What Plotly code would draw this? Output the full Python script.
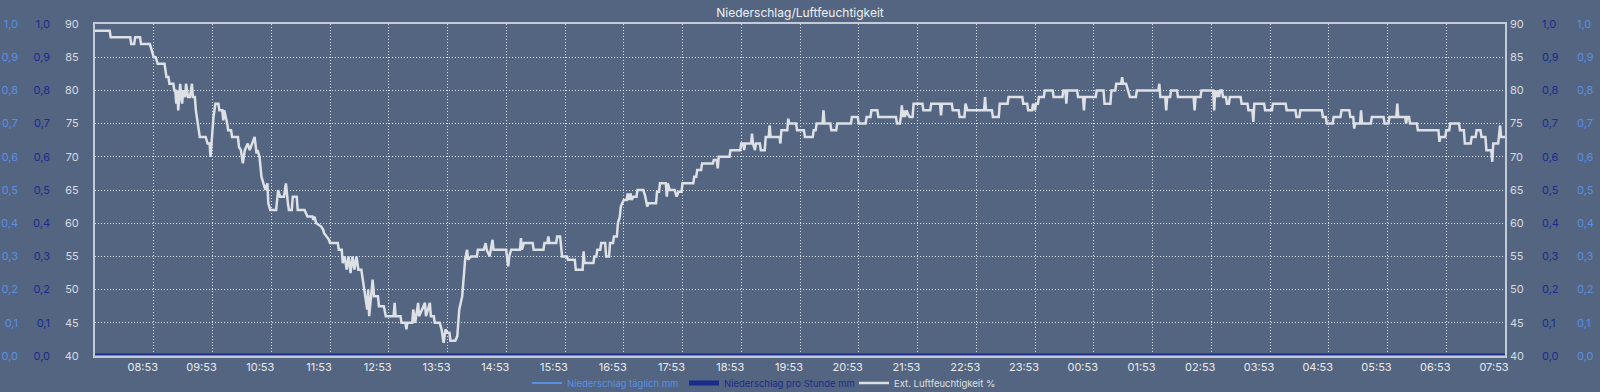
import datetime as dt
import plotly.graph_objects as go

# ---------------- data ----------------
start = dt.datetime(2024, 5, 14, 7, 53)

# humidity breakpoints: minutes after 07:53 and relative humidity (%)
min_a = [0, 15, 16, 36, 37, 40, 41, 46, 47, 56,
         58, 60, 62, 64, 71, 73, 75, 76, 80, 81,
         82, 83, 84, 85, 86, 87, 88, 89, 90, 92,
         93, 95, 97, 99, 100, 102, 103, 105, 107, 113,
         115, 117, 118, 119, 120, 121, 123, 126, 127, 130,
         131, 132, 135, 136, 139, 140, 146, 147, 149, 151,
         153, 156, 158, 163, 165, 166, 168, 170, 172, 174,
         176, 177, 179, 182, 185, 187, 189, 193, 195, 197,
         198, 201, 202, 206, 207, 214, 217, 222, 223, 224,
         226, 231, 233]
rh_a = [89, 89, 88, 88, 87, 87, 88, 88, 87, 87,
        86, 85, 85, 84, 84, 82, 82, 81, 81, 80,
        80, 78, 80, 77, 79, 81, 79, 78, 80, 79,
        81, 79, 79, 81, 79, 79, 77, 75, 73, 73,
        72, 72, 70, 72, 75, 76, 78, 78, 77, 77,
        75.5, 77, 75, 74, 74, 73, 73, 71.5, 71, 69,
        71, 72, 71, 73, 70.5, 71, 70, 67, 66, 65,
        66, 63, 62, 62, 62, 65, 64, 64, 66, 63,
        62, 62, 64, 64, 62, 62, 61, 61, 60.5, 61,
        60, 59.5, 59]

min_b = [234, 239, 240, 248, 249, 252, 253, 255, 257, 259,
         261, 263, 265, 267, 269, 272, 274, 276, 278, 279,
         280, 282, 283.5, 285, 289, 290, 295, 297, 305, 306,
         307, 312, 313, 317, 318, 319, 324, 325, 327, 330,
         331, 337, 338, 342, 343, 346, 347, 352, 354, 356,
         358, 360, 362, 363, 368, 370, 372, 375, 377, 378,
         380, 381, 384, 390, 391, 397, 399, 400, 403, 404,
         406, 407, 420, 421, 422, 423, 425, 434, 435, 436,
         438, 447, 448, 458, 459, 462, 463, 464, 471, 472,
         475, 477]
rh_b = [58.5, 57.5, 57, 57, 56, 56, 54, 55, 53, 55,
        52.5, 55, 53, 55, 53, 53, 51, 49, 47, 50,
        46, 49, 51.5, 49, 49, 47.5, 47.5, 46, 46, 48,
        46, 46, 45, 45, 44, 45, 45, 47, 45, 48,
        46, 48, 46, 48, 46, 46, 45, 45, 44, 42,
        44, 43.5, 43.5, 42.3, 42.3, 43, 47, 49, 52, 54.5,
        56, 54.5, 55, 55, 56, 56, 57, 56, 55, 56,
        57.5, 56, 56, 54.5, 53.5, 55, 56, 56, 57.75, 56,
        57, 57, 56, 56, 57, 57, 58, 57, 57, 58,
        58, 55]

min_c = [478, 482, 483, 490, 491, 498, 499, 500, 509, 510,
         512, 513, 516, 517, 521, 522, 525, 526, 529, 530,
         533, 534, 536, 537, 540, 543, 544, 545, 547, 548,
         550, 553, 554, 560, 562, 564, 565, 573, 574, 576,
         577, 583, 584, 585, 587, 592, 594, 596, 599, 600,
         611, 612, 614, 615, 619, 620, 631, 632, 635, 636,
         637, 648, 649, 659, 660, 662, 663, 664, 670, 671,
         672, 674, 675, 679, 680, 684, 685, 688, 689, 690,
         699, 700, 701, 707, 708, 709, 716, 717]
rh_c = [55, 55, 54.5, 54.5, 53, 53, 55.75, 54, 54, 55,
        55, 56, 56, 57, 57, 55, 55, 57, 57, 58,
        58, 60, 61, 62.5, 63.5, 63.5, 64.5, 63.5, 64.5, 63.5,
        64, 64, 65, 65, 64, 62.5, 63, 63, 64.75, 64.75,
        66, 66, 64, 66, 65, 65, 64, 64.75, 64.75, 66,
        66, 67, 67, 68, 68, 69, 69, 69.5, 69.5, 68.25,
        70, 70, 71, 71, 72, 72, 71, 72, 72, 73.5,
        72, 71, 72, 72, 71, 71, 73, 73, 74.75, 73,
        73, 72, 74, 74, 75.75, 75, 75, 74]

min_d = [724, 725, 733, 734, 736, 737, 743, 744, 745, 751,
         752, 757, 758, 772, 773, 779, 780, 787, 788, 792,
         793, 799, 800, 818, 819, 822, 823, 824, 825, 826,
         827, 829, 830, 832, 835, 836, 845, 846, 853, 854,
         863, 864, 865, 875, 876, 882, 883, 888, 889, 891,
         908, 909, 910, 916, 917, 923, 924, 932, 933, 947,
         948, 952, 953, 957]
rh_d = [74, 73, 73, 74, 74, 75, 75, 77, 75, 75,
        74, 74, 75, 75, 76, 76, 75, 75, 76, 76,
        77, 77, 76, 76, 75, 75, 76, 77.75, 76, 77,
        76, 77, 76.5, 76, 76, 78, 78, 77, 77, 78,
        78, 76.25, 78, 78, 77, 77, 76, 76, 78, 77,
        77, 79, 77, 77, 76, 76, 78, 78, 79, 79,
        78, 78, 77, 77]

min_e = [958, 960, 961, 963, 964, 969, 970, 978, 979, 988,
         989, 991, 992, 993, 1003, 1004, 1009, 1010, 1011, 1022,
         1023, 1030, 1031, 1037, 1038, 1042, 1043, 1048, 1049, 1050,
         1053, 1055, 1057, 1063, 1064, 1086, 1087, 1088, 1093, 1094,
         1095, 1098, 1099, 1105, 1106, 1122, 1123, 1124, 1129, 1130,
         1142, 1143, 1144, 1146, 1147, 1148, 1149, 1151, 1152, 1155,
         1156, 1158, 1159, 1170, 1171, 1177, 1178, 1182, 1183, 1184,
         1194, 1195]
rh_e = [78, 77, 78, 78, 79, 79, 80, 80, 79, 79,
        80, 80, 78, 80, 80, 79, 79, 77, 79, 79,
        80, 80, 78, 78, 80, 80, 81, 81, 82, 81,
        81, 80, 79, 79, 80, 80, 81, 79, 79, 77,
        79, 79, 80, 80, 79, 79, 77, 79, 79, 80,
        80, 77, 80, 79, 80, 79, 80, 80, 79, 79,
        78, 78, 79, 79, 78, 78, 77, 77, 75.25, 78,
        78, 77]

min_f = [1202, 1203, 1216, 1217, 1226, 1227, 1230, 1231, 1253, 1254,
         1257, 1258, 1264, 1265, 1272, 1273, 1281, 1282, 1285, 1286,
         1287, 1292, 1293, 1294, 1303, 1304, 1316, 1317, 1321, 1322,
         1329, 1330, 1331, 1338, 1339, 1340, 1342, 1343, 1350, 1351,
         1372, 1373, 1374, 1379, 1380, 1383, 1384, 1393, 1394, 1398,
         1399, 1405, 1406, 1410, 1411, 1415, 1416, 1420, 1421, 1426,
         1427, 1428, 1433, 1435, 1436, 1440]
rh_f = [77, 78, 78, 77, 77, 76, 76, 77, 77, 76,
        76, 75, 75, 76, 76, 77, 77, 76, 76, 74.25,
        75, 75, 77, 75, 75, 76, 76, 75, 75, 76,
        76, 78, 76, 76, 75, 76, 76, 75, 75, 74,
        74, 72.25, 73, 73, 74, 74, 75, 75, 74, 74,
        72, 72, 73, 73, 74, 74, 73, 73, 71, 71,
        69.25, 72, 72, 74.75, 73, 73]

# precipitation (mm), hourly samples -- all zero
precip_hours = [0, 1, 2, 3, 4, 5, 6, 7, 8, 9, 10, 11, 12,
                13, 14, 15, 16, 17, 18, 19, 20, 21, 22, 23, 24]
precip_daily_mm = [0.0, 0.0, 0.0, 0.0, 0.0, 0.0, 0.0, 0.0, 0.0, 0.0, 0.0, 0.0, 0.0,
                   0.0, 0.0, 0.0, 0.0, 0.0, 0.0, 0.0, 0.0, 0.0, 0.0, 0.0, 0.0]
precip_hourly_mm = [0.0, 0.0, 0.0, 0.0, 0.0, 0.0, 0.0, 0.0, 0.0, 0.0, 0.0, 0.0, 0.0,
                    0.0, 0.0, 0.0, 0.0, 0.0, 0.0, 0.0, 0.0, 0.0, 0.0, 0.0, 0.0]

tick_hours = [1, 2, 3, 4, 5, 6, 7, 8, 9, 10, 11, 12,
              13, 14, 15, 16, 17, 18, 19, 20, 21, 22, 23, 24]

# ---------------- build ----------------
minutes = min_a + min_b + min_c + min_d + min_e + min_f
humidity = rh_a + rh_b + rh_c + rh_d + rh_e + rh_f
t_hum = [start + dt.timedelta(minutes=m) for m in minutes]
t_prec = [start + dt.timedelta(hours=h) for h in precip_hours]
tickvals = [start + dt.timedelta(hours=h) for h in tick_hours]
ticktext = [t.strftime("%H:%M") for t in tickvals]

BG = "#536580"
FRAME = "#c3cbd6"
GRID = "rgba(235,240,246,0.9)"
GREY = "#d6dbe3"
LBLUE = "#5b8fe4"
DBLUE = "#1b2b8c"
HUM = "#dde0e5"

fig = go.Figure()
fig.add_trace(go.Scatter(x=t_prec, y=precip_daily_mm, yaxis="y3", mode="lines",
                         line=dict(color=LBLUE, width=2), legend="legend",
                         name=f"<span style='color:{LBLUE}'>Niederschlag täglich mm</span>"))
fig.add_trace(go.Scatter(x=t_prec, y=precip_hourly_mm, yaxis="y2", mode="lines",
                         line=dict(color=DBLUE, width=5), legend="legend2",
                         name=f"<span style='color:{DBLUE}'>Niederschlag pro Stunde mm</span>"))
fig.add_trace(go.Scatter(x=t_hum, y=humidity, yaxis="y", mode="lines",
                         line=dict(color=HUM, width=2.5), legend="legend3",
                         name=f"<span style='color:{HUM}'>Ext. Luftfeuchtigkeit %</span>"))
# mirrored right-hand axes
for ax in ["y4", "y5", "y6"]:
    fig.add_trace(go.Scatter(x=[t_prec[0]], y=[None], yaxis=ax, mode="lines",
                             showlegend=False, hoverinfo="skip"))

x0 = 95 / 1600
x1 = 1505 / 1600
common_sec = dict(range=[0, 1], tickvals=[0, 0.1, 0.2, 0.3, 0.4, 0.5, 0.6, 0.7, 0.8, 0.9, 1.0],
                  tickformat=".1f", showgrid=False, zeroline=False, showline=False,
                  ticks="", overlaying="y", anchor="free", automargin=False)

leg_common = dict(orientation="h", xref="paper", yref="container", y=1 - 383 / 392,
                  yanchor="middle", xanchor="left",
                  font=dict(size=9.5, family="Inter, 'Noto Sans', sans-serif"),
                  bgcolor="rgba(0,0,0,0)", itemwidth=30)

fig.update_layout(
    width=1600, height=392, autosize=False,
    margin=dict(l=0, r=0, t=24, b=36, autoexpand=False),
    paper_bgcolor=BG, plot_bgcolor=BG,
    separators=",.",
    font=dict(family="Inter, 'Noto Sans', sans-serif", size=11, color=GREY),
    title=dict(text="Niederschlag/Luftfeuchtigkeit", x=0.5, xanchor="center",
               y=1 - 13 / 392, yanchor="middle", yref="container",
               font=dict(size=12, color="#eef1f5")),
    showlegend=True,
    legend=dict(leg_common, x=527 / 1600),
    legend2=dict(leg_common, x=684 / 1600),
    legend3=dict(leg_common, x=854 / 1600),
    xaxis=dict(domain=[x0, x1], type="date",
               range=[start, start + dt.timedelta(minutes=1440)],
               tickvals=tickvals, ticktext=ticktext, ticks="",
               ticklabelshift=-11, ticklabelstandoff=0,
               showgrid=True, gridcolor=GRID, griddash="1px,2px", gridwidth=1,
               showline=True, linecolor=FRAME, linewidth=2, mirror=True,
               zeroline=False, tickfont=dict(size=11, color="#e8ebf0"),
               automargin=False),
    yaxis=dict(range=[40, 90], tickvals=[40, 45, 50, 55, 60, 65, 70, 75, 80, 85, 90],
               showgrid=True, gridcolor=GRID, griddash="1px,2px", gridwidth=1,
               showline=True, linecolor=FRAME, linewidth=2, mirror=True,
               zeroline=False, ticks="", ticklabelstandoff=12,
               tickfont=dict(size=11, color=GREY), automargin=False),
    yaxis2=dict(common_sec, side="left", position=50 / 1600,
                tickfont=dict(size=11, color=DBLUE)),
    yaxis3=dict(common_sec, side="left", position=18 / 1600,
                tickfont=dict(size=11, color=LBLUE)),
    yaxis4=dict(range=[40, 90], tickvals=[40, 45, 50, 55, 60, 65, 70, 75, 80, 85, 90],
                overlaying="y", anchor="free", position=x1, side="right",
                showgrid=False, zeroline=False, showline=False, ticks="",
                ticklabelstandoff=4, tickfont=dict(size=11, color=GREY), automargin=False),
    yaxis5=dict(common_sec, side="right", position=1541 / 1600,
                tickfont=dict(size=11, color=DBLUE)),
    yaxis6=dict(common_sec, side="right", position=1576 / 1600,
                tickfont=dict(size=11, color=LBLUE)),
)

fig.write_html("out.html")
